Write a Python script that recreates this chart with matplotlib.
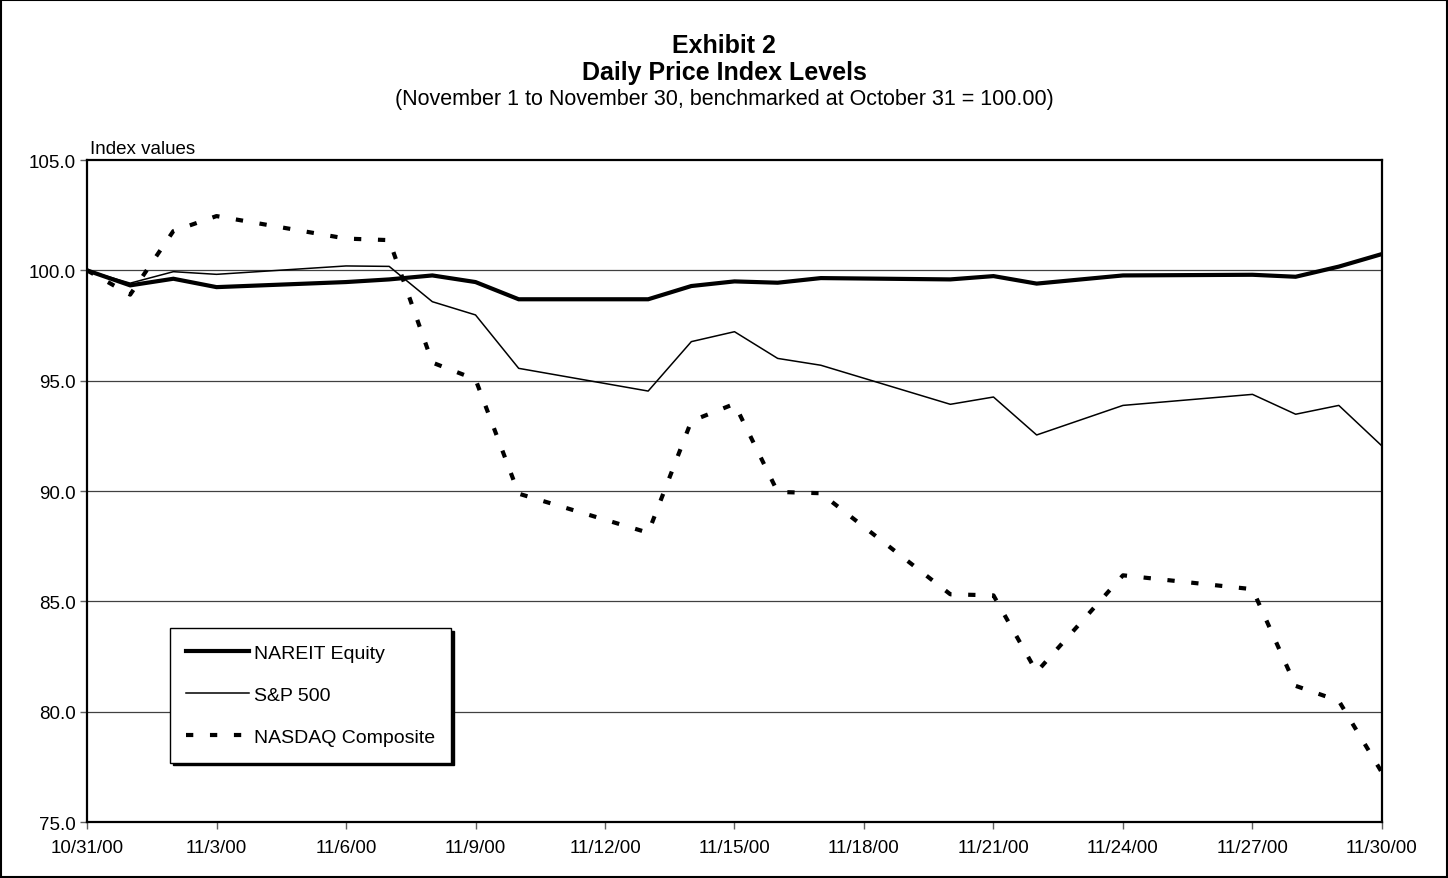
import matplotlib
matplotlib.use('Agg')
import matplotlib.pyplot as plt
import pandas as pd
from matplotlib.patches import Rectangle

plt.rcParams['font.family'] = ['Liberation Sans', 'DejaVu Sans']

dates = ['2000-10-31', '2000-11-01', '2000-11-02', '2000-11-03', '2000-11-06',
         '2000-11-07', '2000-11-08', '2000-11-09', '2000-11-10', '2000-11-13',
         '2000-11-14', '2000-11-15', '2000-11-16', '2000-11-17', '2000-11-20',
         '2000-11-21', '2000-11-22', '2000-11-24', '2000-11-27', '2000-11-28',
         '2000-11-29', '2000-11-30']

nareit = [100.0, 99.32, 99.62, 99.24, 99.47, 99.59, 99.77, 99.47, 98.69, 98.69,
          99.29, 99.50, 99.44, 99.65, 99.59, 99.74, 99.40, 99.77, 99.80, 99.71,
          100.17, 100.74]
sp500 = [100.0, 99.42, 99.94, 99.82, 100.20, 100.18, 98.58, 97.98, 95.56, 94.53,
         96.77, 97.22, 96.01, 95.70, 93.93, 94.26, 92.54, 93.88, 94.38, 93.48,
         93.88, 92.04]
nasdaq = [100.0, 98.9, 101.78, 102.46, 101.44, 101.37, 95.82, 95.06, 89.88, 88.11,
          93.17, 93.95, 89.96, 89.90, 85.32, 85.27, 81.80, 86.18, 85.55, 81.17,
          80.49, 77.24]

series_names = ['NAREIT Equity', 'S&P 500', 'NASDAQ Composite']
y_ticks = [75, 80, 85, 90, 95, 100, 105]

x = pd.to_datetime(dates)
x_ticks = pd.date_range('2000-10-31', '2000-11-30', freq='3D')

fig = plt.figure(figsize=(14.48, 8.79), dpi=100)
ax = fig.add_axes([0.0601, 0.0637, 0.8943, 0.7531])

# horizontal gridlines
for yv in y_ticks[1:-1]:
    ax.axhline(yv, color='#404040', lw=0.9, zorder=1)

ax.plot(x, nareit, color='black', lw=3.0, label=series_names[0], zorder=3,
        solid_joinstyle='miter')
ax.plot(x, sp500, color='black', lw=1.1, label=series_names[1], zorder=3)
ax.plot(x, nasdaq, color='black', lw=3.0, linestyle=(0, (1.75, 4.0)),
        label=series_names[2], zorder=3)

ax.set_xlim(x_ticks[0], x_ticks[-1])
ax.set_ylim(75, 105)
ax.set_yticks(y_ticks)
ax.set_yticklabels(['%.1f' % v for v in y_ticks])
ax.set_xticks(x_ticks)
ax.set_xticklabels(['%d/%d/%s' % (d.month, d.day, d.strftime('%y')) for d in x_ticks])
ax.tick_params(axis='both', labelsize=13.5, length=5, width=1, color='#606060',
               direction='out')
ax.tick_params(axis='x', pad=7)
ax.tick_params(axis='y', pad=3)
for s in ax.spines.values():
    s.set_linewidth(1.6)
    s.set_color('black')

ax.text(0.002, 1.004, 'Index values', transform=ax.transAxes, fontsize=13.5,
        ha='left', va='bottom')

leg = ax.legend(loc='upper left', bbox_to_anchor=(0.064, 0.293), borderaxespad=0,
                fontsize=14, handlelength=3.2, handletextpad=0.25,
                labelspacing=1.25, borderpad=0.85, fancybox=False,
                shadow={'shade': 1.0, 'alpha': 1})
leg.get_frame().set_edgecolor('black')
leg.get_frame().set_linewidth(1.0)

fig.text(0.5, 1 - 53 / 879, 'Exhibit 2', ha='center', va='baseline', fontsize=18,
         fontweight='bold')
fig.text(0.5, 1 - 80 / 879, 'Daily Price Index Levels', ha='center', va='baseline',
         fontsize=18, fontweight='bold')
fig.text(0.5, 1 - 105 / 879,
         '(November 1 to November 30, benchmarked at October 31 = 100.00)',
         ha='center', va='baseline', fontsize=15.5)

# outer frame around the whole exhibit
fig.patches.append(Rectangle((0.001, 0.0015), 0.998, 0.997, transform=fig.transFigure,
                             fill=False, edgecolor='black', lw=1.5))

fig.savefig('out.png', dpi=100)
